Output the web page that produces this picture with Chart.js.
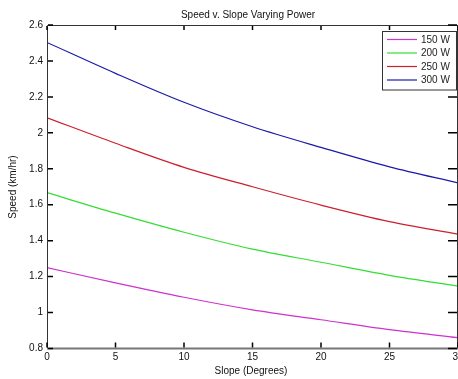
<!DOCTYPE html>
<html>
<head>
<meta charset="utf-8">
<script src="https://cdn.jsdelivr.net/npm/chart.js@4.4.1/dist/chart.umd.min.js"></script>
<style>
html,body{margin:0;padding:0;background:#fff;}
canvas{display:block;}
</style>
</head>
<body>
<canvas id="c" width="458" height="379"></canvas>
<script>
// ---- data ----
const slopes = [0, 5, 10, 15, 20, 25, 30];
const speed150 = [1.25, 1.165, 1.085, 1.015, 0.96, 0.905, 0.86];
const speed200 = [1.667, 1.553, 1.447, 1.353, 1.28, 1.207, 1.147];
const speed250 = [2.084, 1.942, 1.808, 1.70, 1.598, 1.506, 1.436];
const speed300 = [2.503, 2.331, 2.17, 2.034, 1.919, 1.811, 1.722];
const seriesLabels = ['150 W', '200 W', '250 W', '300 W'];
const seriesColors = ['#cc33cc', '#33dd33', '#cc1f2f', '#1a1aa8'];
const xTicks = [0, 5, 10, 15, 20, 25, 30];
const yTicks = [0.8, 1, 1.2, 1.4, 1.6, 1.8, 2, 2.2, 2.4, 2.6];
const titleText = 'Speed v. Slope Varying Power';
const xTitle = 'Slope (Degrees)';
const yTitle = 'Speed (km/hr)';

const FONT = '"Liberation Sans", Arial, sans-serif';
const allSeries = [speed150, speed200, speed250, speed300];

const datasets = allSeries.map((arr, i) => ({
  label: seriesLabels[i],
  data: slopes.map((s, j) => ({x: s, y: arr[j]})),
  borderColor: seriesColors[i],
  backgroundColor: seriesColors[i],
  borderWidth: 1.2,
  pointRadius: 0,
  fill: false,
  cubicInterpolationMode: 'monotone'
}));

const decorPlugin = {
  id: 'decor',
  afterDraw(chart) {
    const ctx = chart.ctx;
    const a = chart.chartArea;
    const xs = chart.scales.x, ys = chart.scales.y;
    ctx.save();
    // box
    ctx.lineWidth = 1;
    ctx.strokeStyle = '#333';
    ctx.beginPath();
    ctx.moveTo(a.left + 0.5, a.bottom); ctx.lineTo(a.left + 0.5, a.top + 0.5);
    ctx.lineTo(a.right, a.top + 0.5);
    ctx.moveTo(a.right - 0.5, a.top); ctx.lineTo(a.right - 0.5, a.bottom);
    ctx.stroke();
    ctx.strokeStyle = '#777';
    ctx.lineWidth = 2;
    ctx.beginPath();
    ctx.moveTo(a.left, a.bottom); ctx.lineTo(a.right, a.bottom);
    ctx.stroke();
    // inward ticks
    ctx.lineWidth = 1.5;
    ctx.strokeStyle = '#000';
    ctx.beginPath();
    for (const v of xTicks) {
      const px = xs.getPixelForValue(v);
      ctx.moveTo(px, a.bottom - 1); ctx.lineTo(px, a.bottom - 6);
      ctx.moveTo(px, a.top + 1); ctx.lineTo(px, a.top + 5);
    }
    for (const v of yTicks) {
      const py = ys.getPixelForValue(v);
      ctx.moveTo(a.left + 1, py); ctx.lineTo(a.left + 6, py);
      ctx.moveTo(a.right - 1, py); ctx.lineTo(a.right - 10, py);
    }
    ctx.stroke();
    // titles
    ctx.fillStyle = '#111';
    ctx.font = '10px ' + FONT;
    ctx.textAlign = 'center';
    ctx.textBaseline = 'middle';
    ctx.fillText(titleText, 248, 15);
    ctx.fillText(xTitle, 251, 371);
    ctx.translate(13, 187);
    ctx.rotate(-Math.PI / 2);
    ctx.fillText(yTitle, 0, 0);
    ctx.restore();

    // legend
    ctx.save();
    const lx = 382.5, ly = 31.5, lw = 74, lh = 58.5;
    ctx.fillStyle = '#fff';
    ctx.fillRect(lx, ly, lw, lh);
    ctx.strokeStyle = '#333';
    ctx.lineWidth = 1;
    ctx.strokeRect(lx, ly, lw, lh);
    ctx.font = '10px ' + FONT;
    ctx.textAlign = 'left';
    ctx.textBaseline = 'middle';
    chart.data.datasets.forEach((ds, i) => {
      const y = 39.5 + i * 13.5;
      ctx.strokeStyle = ds.borderColor;
      ctx.lineWidth = 1.2;
      ctx.beginPath();
      ctx.moveTo(387, y); ctx.lineTo(417, y);
      ctx.stroke();
      ctx.fillStyle = '#222';
      ctx.fillText(ds.label, 421, y + 0.5);
    });
    ctx.restore();
  }
};

new Chart(document.getElementById('c'), {
  type: 'line',
  data: { datasets },
  options: {
    responsive: false,
    animation: false,
    layout: { padding: { top: 25, right: 0, left: 0, bottom: 0 } },
    plugins: { legend: { display: false }, title: { display: false }, tooltip: { enabled: false } },
    scales: {
      x: {
        type: 'linear',
        min: 0, max: 30,
        afterBuildTicks: s => { s.ticks = xTicks.map(v => ({value: v})); },
        afterFit: s => { s.height = 30.5; s.paddingLeft = 0; s.paddingRight = 0; },
        grid: { display: false, drawTicks: false },
        border: { display: false },
        ticks: { padding: 3, color: '#111', font: { family: FONT, size: 10 }, maxRotation: 0, autoSkip: false,
                 callback: v => String(v) }
      },
      y: {
        type: 'linear',
        min: 0.8, max: 2.6,
        afterBuildTicks: s => { s.ticks = yTicks.map(v => ({value: v})); },
        afterFit: s => { s.width = 47; s.paddingTop = 0; s.paddingBottom = 0; },
        grid: { display: false, drawTicks: false },
        border: { display: false },
        ticks: { padding: 4, color: '#111', font: { family: FONT, size: 10 }, autoSkip: false,
                 callback: v => String(+Number(v).toFixed(1)) }
      }
    }
  },
  plugins: [decorPlugin]
});
</script>
</body>
</html>
